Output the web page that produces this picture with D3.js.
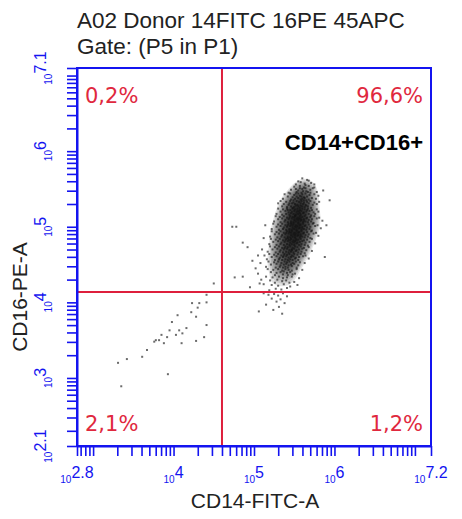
<!DOCTYPE html>
<html>
<head>
<meta charset="utf-8">
<script src="https://cdn.jsdelivr.net/npm/d3@7"></script>
<style>
  html, body { margin: 0; padding: 0; background: #fff; }
  svg { display: block; }
</style>
</head>
<body>
<svg id="chart" width="462" height="519"></svg>
<script>
// ---- Plot text ----
const titleLines = ["A02 Donor 14FITC 16PE 45APC", "Gate: (P5 in P1)"];
const xAxisTitle = "CD14-FITC-A";
const yAxisTitle = "CD16-PE-A";
const populationLabel = "CD14+CD16+";

// ---- Axis ranges (log10 of fluorescence) and labelled ticks ----
const xDomainExp = [2.8, 7.2];
const yDomainExp = [2.1, 7.1];
const xLabelExps = [2.8, 4, 5, 6, 7.2];
const xLabelText = ["2.8", "4", "5", "6", "7.2"];
const yLabelExps = [2.1, 3, 4, 5, 6, 7.1];
const yLabelText = ["2.1", "3", "4", "5", "6", "7.1"];

// ---- Quadrant gate (fluorescence) and quadrant statistics ----
const gateCD14 = 40000;
const gateCD16 = 13700;
const quadrantKeys = ["UL", "UR", "LL", "LR"];
const quadrantPercents = ["0,2%", "96,6%", "2,1%", "1,2%"];

// ---- Events: [log10 CD14-FITC-A, log10 CD16-PE-A] ----
// Main CD14+CD16+ population
const mainEvents = [
[5.60,5.64],[5.66,5.62],[5.55,5.60],[5.71,5.58],[5.63,5.57],[5.52,5.56],[5.68,5.61],[5.58,5.59],[5.75,5.56],[5.64,5.55],
[5.50,5.53],[5.57,5.54],[5.62,5.52],[5.68,5.54],[5.73,5.51],[5.46,5.49],[5.55,5.48],[5.60,5.50],[5.65,5.47],[5.70,5.49],
[5.78,5.46],[5.53,5.46],[5.59,5.45],[5.64,5.51],[5.43,5.45],[5.67,5.46],[5.61,5.47],[5.52,5.50],[5.75,5.52],[5.57,5.51],
[5.38,5.43],[5.45,5.44],[5.50,5.42],[5.55,5.44],[5.60,5.43],[5.64,5.44],[5.69,5.42],[5.75,5.43],[5.80,5.41],[5.42,5.40],
[5.48,5.39],[5.53,5.40],[5.57,5.41],[5.62,5.39],[5.66,5.40],[5.72,5.38],[5.36,5.37],[5.46,5.36],[5.51,5.37],[5.58,5.36],
[5.63,5.38],[5.68,5.36],[5.55,5.38],[5.60,5.37],[5.49,5.35],[5.65,5.35],[5.77,5.37],[5.52,5.44],[5.59,5.40],[5.70,5.45],
[5.33,5.34],[5.40,5.33],[5.45,5.34],[5.49,5.32],[5.53,5.34],[5.56,5.33],[5.59,5.34],[5.62,5.32],[5.66,5.33],[5.70,5.34],
[5.75,5.32],[5.81,5.33],[5.37,5.30],[5.43,5.29],[5.47,5.31],[5.51,5.30],[5.54,5.29],[5.58,5.31],[5.61,5.30],[5.64,5.29],
[5.68,5.31],[5.73,5.29],[5.78,5.30],[5.35,5.27],[5.41,5.26],[5.46,5.27],[5.50,5.26],[5.55,5.27],[5.57,5.25],[5.60,5.27],
[5.63,5.26],[5.67,5.27],[5.71,5.25],[5.52,5.28],[5.48,5.25],[5.58,5.28],[5.44,5.31],[5.65,5.28],[5.62,5.35],[5.30,5.31],
[5.30,5.24],[5.36,5.23],[5.41,5.24],[5.45,5.22],[5.48,5.24],[5.51,5.23],[5.54,5.24],[5.57,5.22],[5.60,5.24],[5.63,5.23],
[5.67,5.24],[5.72,5.22],[5.78,5.23],[5.33,5.20],[5.39,5.21],[5.43,5.19],[5.47,5.20],[5.50,5.21],[5.53,5.19],[5.56,5.20],
[5.59,5.21],[5.62,5.19],[5.65,5.20],[5.69,5.21],[5.74,5.19],[5.80,5.20],[5.28,5.17],[5.35,5.16],[5.40,5.17],[5.44,5.16],
[5.49,5.17],[5.52,5.16],[5.55,5.17],[5.58,5.16],[5.61,5.18],[5.64,5.16],[5.68,5.17],[5.71,5.15],[5.76,5.17],[5.46,5.18],
[5.54,5.21],[5.57,5.18],[5.51,5.15],[5.66,5.22],[5.42,5.22],
[5.27,5.14],[5.32,5.13],[5.37,5.14],[5.41,5.12],[5.45,5.14],[5.48,5.13],[5.51,5.14],[5.54,5.12],[5.57,5.14],[5.60,5.13],
[5.63,5.14],[5.66,5.12],[5.70,5.13],[5.75,5.14],[5.81,5.12],[5.30,5.10],[5.35,5.11],[5.39,5.09],[5.43,5.10],[5.47,5.11],
[5.50,5.09],[5.53,5.10],[5.56,5.11],[5.59,5.09],[5.62,5.10],[5.65,5.11],[5.68,5.09],[5.72,5.10],[5.78,5.11],[5.25,5.07],
[5.33,5.06],[5.38,5.07],[5.42,5.06],[5.46,5.07],[5.49,5.06],[5.52,5.07],[5.55,5.06],[5.58,5.08],[5.61,5.06],[5.64,5.07],
[5.67,5.06],[5.71,5.07],[5.74,5.05],[5.85,5.08],[5.44,5.12],[5.55,5.09],[5.50,5.12],[5.58,5.11],[5.46,5.05],[5.62,5.08],
[5.24,5.04],[5.30,5.03],[5.35,5.04],[5.39,5.02],[5.43,5.04],[5.46,5.03],[5.49,5.04],[5.52,5.02],[5.55,5.04],[5.58,5.03],
[5.61,5.04],[5.64,5.02],[5.68,5.03],[5.73,5.04],[5.79,5.02],[5.28,5.00],[5.33,5.01],[5.37,4.99],[5.41,5.00],[5.45,5.01],
[5.48,4.99],[5.51,5.00],[5.54,5.01],[5.57,4.99],[5.60,5.00],[5.63,5.01],[5.66,4.99],[5.70,5.00],[5.76,5.01],[5.22,4.97],
[5.31,4.96],[5.36,4.97],[5.40,4.96],[5.44,4.97],[5.47,4.96],[5.50,4.97],[5.53,4.96],[5.56,4.98],[5.59,4.96],[5.62,4.97],
[5.65,4.96],[5.69,4.97],[5.72,4.95],[5.83,4.98],[5.42,5.02],[5.53,4.99],[5.48,5.02],[5.57,5.02],[5.44,4.95],[5.60,4.98],
[5.22,4.94],[5.28,4.93],[5.33,4.94],[5.37,4.92],[5.41,4.94],[5.44,4.93],[5.47,4.94],[5.50,4.92],[5.53,4.94],[5.56,4.93],
[5.59,4.94],[5.62,4.92],[5.66,4.93],[5.71,4.94],[5.77,4.92],[5.26,4.90],[5.31,4.91],[5.35,4.89],[5.39,4.90],[5.43,4.91],
[5.46,4.89],[5.49,4.90],[5.52,4.91],[5.55,4.89],[5.58,4.90],[5.61,4.91],[5.64,4.89],[5.68,4.90],[5.74,4.91],[5.20,4.87],
[5.29,4.86],[5.34,4.87],[5.38,4.86],[5.42,4.87],[5.45,4.86],[5.48,4.87],[5.51,4.86],[5.54,4.88],[5.57,4.86],[5.60,4.87],
[5.63,4.86],[5.67,4.87],[5.70,4.85],[5.80,4.88],[5.40,4.92],[5.51,4.89],[5.46,4.92],[5.55,4.92],[5.42,4.85],[5.58,4.88],
[5.21,4.84],[5.27,4.83],[5.32,4.84],[5.36,4.82],[5.40,4.84],[5.43,4.83],[5.46,4.84],[5.49,4.82],[5.52,4.84],[5.55,4.83],
[5.58,4.84],[5.62,4.82],[5.66,4.83],[5.72,4.84],[5.24,4.80],[5.30,4.81],[5.34,4.79],[5.38,4.80],[5.42,4.81],[5.45,4.79],
[5.48,4.80],[5.51,4.81],[5.54,4.79],[5.57,4.80],[5.60,4.81],[5.64,4.79],[5.69,4.80],[5.19,4.77],[5.28,4.76],[5.33,4.77],
[5.37,4.76],[5.41,4.77],[5.44,4.76],[5.47,4.77],[5.50,4.76],[5.53,4.78],[5.56,4.76],[5.59,4.77],[5.63,4.76],[5.67,4.75],
[5.76,4.78],[5.39,4.82],[5.50,4.79],[5.45,4.82],[5.53,4.82],
[5.20,4.74],[5.26,4.73],[5.31,4.74],[5.35,4.72],[5.39,4.74],[5.42,4.73],[5.45,4.74],[5.48,4.72],[5.51,4.74],[5.54,4.73],
[5.58,4.74],[5.62,4.72],[5.68,4.73],[5.23,4.70],[5.29,4.71],[5.33,4.69],[5.37,4.70],[5.41,4.71],[5.44,4.69],[5.47,4.70],
[5.50,4.71],[5.53,4.69],[5.56,4.70],[5.60,4.71],[5.65,4.69],[5.17,4.67],[5.27,4.66],[5.32,4.67],[5.36,4.66],[5.40,4.67],
[5.43,4.66],[5.46,4.67],[5.49,4.66],[5.52,4.68],[5.55,4.66],[5.59,4.67],[5.63,4.65],[5.72,4.68],[5.38,4.72],[5.47,4.69],
[5.19,4.64],[5.25,4.63],[5.30,4.64],[5.34,4.62],[5.38,4.64],[5.41,4.63],[5.44,4.64],[5.47,4.62],[5.50,4.64],[5.54,4.63],
[5.58,4.64],[5.64,4.62],[5.22,4.60],[5.28,4.61],[5.32,4.59],[5.36,4.60],[5.40,4.61],[5.43,4.59],[5.46,4.60],[5.49,4.61],
[5.52,4.59],[5.56,4.60],[5.61,4.61],[5.16,4.57],[5.26,4.56],[5.31,4.57],[5.35,4.56],[5.39,4.57],[5.42,4.56],[5.45,4.57],
[5.48,4.56],[5.51,4.58],[5.55,4.56],[5.68,4.58],[5.37,4.62],
[5.18,4.54],[5.25,4.53],[5.30,4.54],[5.34,4.52],[5.38,4.54],[5.41,4.53],[5.44,4.54],[5.48,4.52],[5.52,4.54],[5.57,4.53],
[5.63,4.52],[5.21,4.50],[5.28,4.51],[5.33,4.49],[5.37,4.50],[5.40,4.51],[5.43,4.49],[5.46,4.50],[5.50,4.51],[5.55,4.49],
[5.15,4.47],[5.27,4.46],[5.32,4.47],[5.36,4.46],[5.39,4.47],[5.42,4.46],[5.47,4.48],[5.53,4.46],
[5.17,4.44],[5.24,4.43],[5.30,4.44],[5.35,4.42],[5.39,4.44],[5.43,4.43],[5.47,4.42],[5.53,4.44],[5.60,4.43],[5.21,4.40],
[5.28,4.39],[5.33,4.40],[5.37,4.41],[5.41,4.39],[5.45,4.40],[5.51,4.38],[5.26,4.36],[5.36,4.37],[5.42,4.36],[5.48,4.37],
[5.15,4.34],[5.23,4.33],[5.31,4.34],[5.36,4.32],[5.41,4.33],[5.47,4.34],[5.56,4.32],[5.20,4.29],[5.29,4.30],[5.35,4.28],
[5.40,4.29],[5.50,4.27],[5.26,4.26],[5.44,4.26],
[5.12,4.24],[5.22,4.23],[5.30,4.22],[5.37,4.24],[5.45,4.21],[5.54,4.23],[5.27,4.18],[5.34,4.17],[5.41,4.19],[5.19,4.16]
];

// Sparse events: CD16-low tail, CD14-dim outliers and the double-negative diagonal
const sparseEvents = [
[5.12,4.12],[5.18,4.10],[5.25,4.11],[5.30,4.09],[5.36,4.12],[5.41,4.08],[5.22,4.05],[5.33,4.04],[5.28,4.01],[5.38,3.99],
[5.15,3.97],[5.31,3.94],[5.24,3.90],[5.06,3.88],[5.35,3.85],
[4.73,5.00],[4.78,5.00],[4.86,4.79],[4.92,4.73],[4.76,4.33],[4.86,4.34],[4.95,4.20],[5.02,4.45],[5.05,4.62],[4.98,4.55],
[5.08,4.52],[5.10,4.70],[5.05,4.38],[5.09,4.30],[5.12,4.85],[5.13,4.62],[5.07,4.25],[5.14,5.02],
[5.94,5.35],[5.90,5.02],[5.88,4.60],[5.86,5.48],[4.50,4.25],
[3.31,3.20],[3.35,2.89],[3.42,3.25],[3.61,3.28],[3.67,3.37],[3.76,3.48],[3.82,3.50],[3.93,3.05],[3.95,3.63],[3.98,3.74],
[4.05,3.83],[4.07,3.63],[4.11,3.59],[4.16,3.66],[4.22,3.87],[4.23,3.99],[4.28,3.81],[4.30,3.93],[4.32,3.99],[4.41,4.00],
[4.41,3.70],[4.38,3.54],[4.28,3.49],[4.41,4.10],[3.88,3.46],[3.92,3.54],[3.85,3.57],[3.78,3.50],[4.03,3.57],[4.10,3.46]
];

// ---- Layout ----
const W = 462, H = 519;
const plot = { left: 77, right: 431, top: 68, bottom: 446 };
const AXIS_BLUE = "#1414f0";
const GATE_RED = "#de1f3c";
const TEXT_RED = "#e0283e";
const SANS = "'Liberation Sans', Arial, sans-serif";

const svg = d3.select("#chart");

const x = d3.scaleLog()
  .domain(xDomainExp.map(e => Math.pow(10, e)))
  .range([plot.left, plot.right]);
const y = d3.scaleLog()
  .domain(yDomainExp.map(e => Math.pow(10, e)))
  .range([plot.bottom, plot.top]);

const px = d => x(Math.pow(10, d[0]));
const py = d => y(Math.pow(10, d[1]));

// ---- Title ----
svg.append("g")
  .selectAll("text")
  .data(titleLines)
  .join("text")
  .attr("x", 77)
  .attr("y", (d, i) => 28 + i * 25.5)
  .attr("font-family", SANS)
  .attr("font-size", 22.5)
  .attr("fill", "#222")
  .text(d => d);

// ---- Event density underlay and dots ----
const events = svg.append("g");

const density = d3.contourDensity()
  .x(px).y(py)
  .size([W, H])
  .bandwidth(3.5)
  .thresholds(16)(mainEvents);

// inner levels only, so the dark core stays inside the dot cloud
events.append("g")
  .selectAll("path")
  .data(density.slice(3))
  .join("path")
  .attr("d", d3.geoPath())
  .attr("fill", "#000")
  .attr("fill-opacity", 0.11);

events.append("g")
  .selectAll("rect")
  .data(mainEvents.concat(sparseEvents))
  .join("rect")
  .attr("x", d => px(d) - 1)
  .attr("y", d => py(d) - 1)
  .attr("width", 2)
  .attr("height", 2)
  .attr("fill", "#111")
  .attr("fill-opacity", 0.62);

// ---- Quadrant gate lines ----
svg.append("line")
  .attr("x1", x(gateCD14)).attr("x2", x(gateCD14))
  .attr("y1", plot.top).attr("y2", plot.bottom)
  .attr("stroke", GATE_RED).attr("stroke-width", 2);
svg.append("line")
  .attr("x1", plot.left).attr("x2", plot.right)
  .attr("y1", y(gateCD16)).attr("y2", y(gateCD16))
  .attr("stroke", GATE_RED).attr("stroke-width", 2);

// ---- Axes ----
const xTicks = x.ticks().concat(x.domain());
const yTicks = y.ticks().concat(y.domain());

const xAxis = svg.append("g")
  .attr("transform", `translate(0,${plot.bottom})`)
  .call(d3.axisBottom(x).tickValues(xTicks).tickSize(10).tickSizeOuter(0).tickFormat(""));
const yAxis = svg.append("g")
  .attr("transform", `translate(${plot.left},0)`)
  .call(d3.axisLeft(y).tickValues(yTicks).tickSize(10).tickSizeOuter(0).tickFormat(""));

[xAxis, yAxis].forEach(g => {
  g.select(".domain").attr("stroke", AXIS_BLUE).attr("stroke-width", 2);
  g.selectAll(".tick line").attr("stroke", AXIS_BLUE).attr("stroke-width", 1.6);
});

// Frame (top and right edges)
svg.append("rect")
  .attr("x", plot.left).attr("y", plot.top)
  .attr("width", plot.right - plot.left)
  .attr("height", plot.bottom - plot.top)
  .attr("fill", "none")
  .attr("stroke", AXIS_BLUE)
  .attr("stroke-width", 2);

// ---- Tick labels in "10^n" form ----
const xLab = svg.append("g")
  .selectAll("text")
  .data(xLabelExps)
  .join("text")
  .attr("x", d => x(Math.pow(10, d)))
  .attr("y", 478)
  .attr("text-anchor", "middle")
  .attr("font-family", SANS)
  .attr("fill", AXIS_BLUE);
xLab.append("tspan").attr("font-size", 10).attr("dy", 5).text("10");
xLab.append("tspan").attr("font-size", 16).attr("dy", -5).text((d, i) => xLabelText[i]);

const yLab = svg.append("g")
  .selectAll("text")
  .data(yLabelExps)
  .join("text")
  .attr("transform", d => `translate(46,${y(Math.pow(10, d))}) rotate(-90)`)
  .attr("text-anchor", "middle")
  .attr("font-family", SANS)
  .attr("fill", AXIS_BLUE);
yLab.append("tspan").attr("font-size", 10).attr("dy", 6).text("10");
yLab.append("tspan").attr("font-size", 16).attr("dy", -6).text((d, i) => yLabelText[i]);

// ---- Axis titles ----
svg.append("text")
  .attr("x", 255).attr("y", 508)
  .attr("text-anchor", "middle")
  .attr("font-family", SANS)
  .attr("font-size", 21)
  .attr("fill", "#222")
  .text(xAxisTitle);

svg.append("text")
  .attr("transform", "translate(27,297) rotate(-90)")
  .attr("text-anchor", "middle")
  .attr("font-family", SANS)
  .attr("font-size", 21)
  .attr("fill", "#222")
  .text(yAxisTitle);

// ---- Quadrant percentages ----
const quadPos = {
  UL: { x: plot.left + 8, y: plot.top + 35, anchor: "start" },
  UR: { x: plot.right - 8, y: plot.top + 35, anchor: "end" },
  LL: { x: plot.left + 8, y: plot.bottom - 15, anchor: "start" },
  LR: { x: plot.right - 8, y: plot.bottom - 15, anchor: "end" }
};
svg.append("g")
  .selectAll("text")
  .data(quadrantKeys)
  .join("text")
  .attr("x", k => quadPos[k].x)
  .attr("y", k => quadPos[k].y)
  .attr("text-anchor", k => quadPos[k].anchor)
  .attr("font-family", "'DejaVu Sans', sans-serif")
  .attr("font-size", 21)
  .attr("fill", TEXT_RED)
  .text((k, i) => quadrantPercents[i]);

// Population name
svg.append("text")
  .attr("x", plot.right - 8)
  .attr("y", plot.top + 82)
  .attr("text-anchor", "end")
  .attr("font-family", SANS)
  .attr("font-weight", "bold")
  .attr("font-size", 22)
  .attr("fill", "#000")
  .text(populationLabel);
</script>
</body>
</html>
